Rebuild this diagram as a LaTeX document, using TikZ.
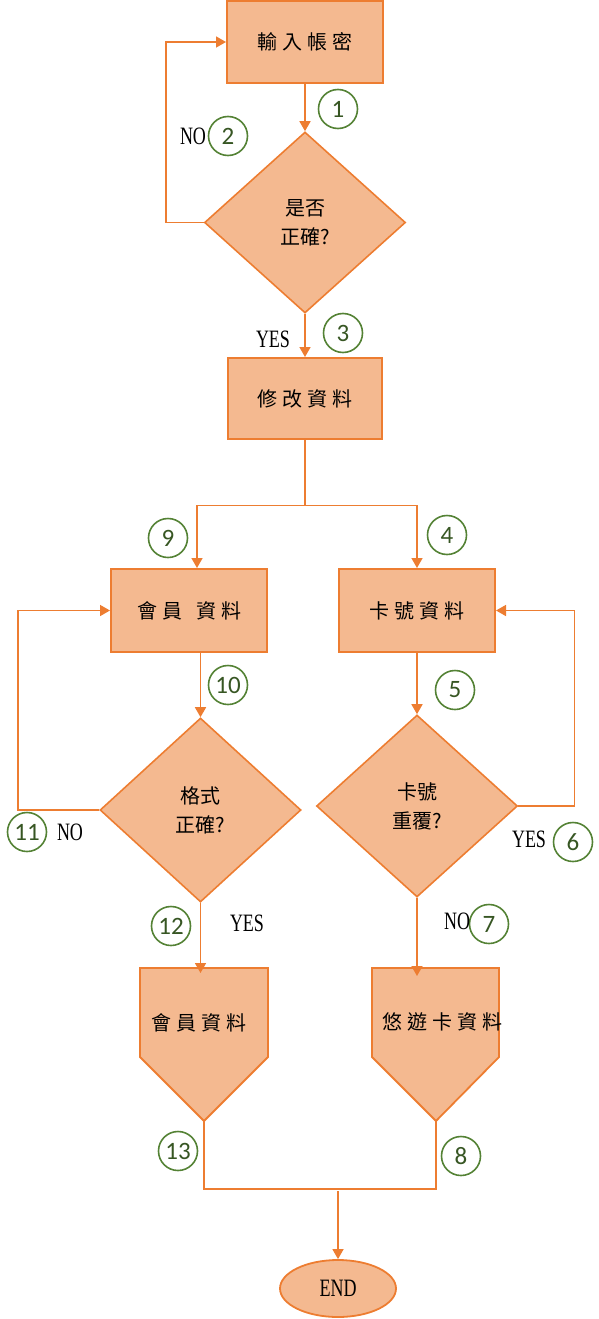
\documentclass[tikz,border=0pt]{standalone}
\usepackage{fontspec}
\usetikzlibrary{shapes.geometric,arrows.meta,calc}
\newfontfamily\cjkbox[LetterSpace=25]{Noto Sans CJK TC}
\newfontfamily\cjkdia{Noto Sans CJK TC}
\newfontfamily\latf{Liberation Serif}
\newfontfamily\numf{Carlito}
\definecolor{ostroke}{HTML}{ED7D31}
\definecolor{ofill}{HTML}{F4B990}
\definecolor{gstroke}{HTML}{548235}
\definecolor{gtext}{HTML}{375623}
\newcommand\latlabel[1]{\scalebox{0.72}[1]{\fontsize{25}{25}\selectfont\latf #1}}
\tikzset{
  procbox/.style={draw=ostroke, fill=ofill, line width=2pt, rectangle, inner sep=0pt, font=\cjkbox\fontsize{20}{24}\selectfont},
  decbox/.style={draw=ostroke, fill=ofill, line width=1.6pt, diamond, inner sep=0pt, align=center, font=\cjkdia\fontsize{20}{29}\selectfont},
  pentbox/.style={draw=ostroke, fill=ofill, line width=1.8pt, line join=miter},
  numc/.style={circle, draw=gstroke, line width=1.6pt, minimum size=39pt, inner sep=0pt, text=gtext, font=\numf\fontsize{25}{25}\selectfont},
  lbl/.style={inner sep=0pt},
  arr/.style={draw=ostroke, line width=1.6pt, -{Triangle[length=10pt,width=11pt]}},
  ln/.style={draw=ostroke, line width=1.6pt},
}
\begin{document}
\begin{tikzpicture}[x=1pt, y=-1pt]
\useasboundingbox (0,0) rectangle (598,1319);

% nodes
\node[procbox, minimum width=156pt, minimum height=82pt] (b1) at (305,42) {輸入帳密};
\node[decbox, minimum width=201pt, minimum height=181pt] (d1) at (305,222.5) {是否\\正確?};
\node[procbox, minimum width=154pt, minimum height=81pt] (b2) at (305,398.5) {修改資料};
\node[procbox, minimum width=156pt, minimum height=83pt] (b3) at (189,610.5) {會員\hspace{14pt}資料};
\node[procbox, minimum width=156pt, minimum height=83pt] (b4) at (417,610.5) {卡號資料};
\node[decbox, minimum width=201pt, minimum height=184pt] (d3) at (200.5,810) {格式\\正確?};
\node[decbox, minimum width=201pt, minimum height=182pt] (d4) at (417,806) {卡號\\重覆?};

% pentagons
\draw[pentbox] (140,968) -- (268,968) -- (268,1057) -- (204,1121) -- (140,1057) -- cycle;
\draw[pentbox] (372,968) -- (499,968) -- (499,1057) -- (436,1121) -- (372,1057) -- cycle;
\coordinate (p5top) at (204,968);
\coordinate (p5tip) at (204,1121);
\coordinate (p6top) at (436,968);
\coordinate (p6tip) at (436,1121);
\node[lbl, font=\cjkbox\fontsize{20}{24}\selectfont] (t5) at (199,1023) {會員資料};
\node[lbl, font=\cjkbox\fontsize{20}{24}\selectfont] (t6) at (442,1022) {悠遊卡資料};

\node[draw=ostroke, fill=ofill, line width=1.8pt, ellipse, minimum width=116pt, minimum height=57pt, inner sep=0pt] (end) at (338,1288.5) {\latlabel{END}};

% connectors
\draw[arr] (b1.south) -- (d1.north);
\draw[arr] (d1.west) -- ++(-38,0) |- (b1.west);
\draw[arr] (d1.south) -- (b2.north);
\draw[ln] (b2.south) -- ++(0,65.5) coordinate (j);
\draw[arr] (j) -| ([xshift=8pt]b3.north);
\draw[arr] (j) -| (b4.north);
\draw[arr] (b3.south -| d3.north) -- (d3.north);
\draw[arr] (d3.west) -- ++(-81,0) |- (b3.west);
\draw[arr] (d3.south) -- ([yshift=-5pt]d3.south |- p5top);
\draw[arr] (b4.south) -- (d4.north);
\draw[arr] (d4.east) -- ++(56,0) |- (b4.east);
\draw[arr] (d4.south) -- ([yshift=-8pt]d4.south |- p6top);
\draw[ln] (p5tip) -- ++(0,68) coordinate (bl) -| (p6tip);
\coordinate (m) at (338,1191);
\draw[arr] (m) -- (end.north);

% numbered circles
\node[numc] (n1) at (338,109) {1};
\node[numc] (n2) at (228,136) {2};
\node[numc] (n3) at (343,333) {3};
\node[numc] (n4) at (447,535) {4};
\node[numc] (n5) at (455,690) {5};
\node[numc] (n6) at (573,842) {6};
\node[numc] (n7) at (489,924) {7};
\node[numc] (n8) at (461,1156) {8};
\node[numc] (n9) at (168,538) {9};
\node[numc] (n10) at (228,685) {10};
\node[numc] (n11) at (27,832) {11};
\node[numc] (n12) at (171,926) {12};
\node[numc] (n13) at (178,1151) {13};

% yes / no labels
\node[lbl] (no2) at (193,136) {\latlabel{NO}};
\node[lbl] (yes3) at (273,339) {\latlabel{YES}};
\node[lbl] (yes6) at (529,839) {\latlabel{YES}};
\node[lbl] (no7) at (457,921) {\latlabel{NO}};
\node[lbl] (no11) at (70,832) {\latlabel{NO}};
\node[lbl] (yes12) at (247,923) {\latlabel{YES}};
\end{tikzpicture}
\end{document}
